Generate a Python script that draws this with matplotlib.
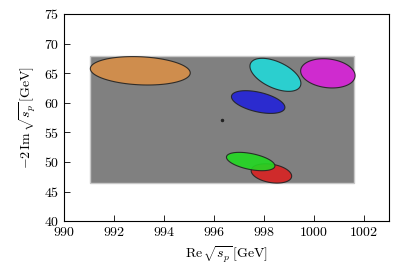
import matplotlib
matplotlib.use("Agg")
import matplotlib.pyplot as plt
import numpy as np
from matplotlib.patches import Rectangle

plt.rcParams['mathtext.fontset'] = 'cm'
plt.rcParams['font.family'] = 'serif'
plt.rcParams['font.serif'] = ['cmr10', 'DejaVu Serif']
plt.rcParams['axes.formatter.use_mathtext'] = True

# region (gray box)
box_x = [991.05, 1001.62]
box_y = [46.45, 67.85]

# ellipses: center, half-extent in x/y, correlation
names = ["orange", "cyan", "magenta", "blue", "red", "green"]
cx = [993.05, 998.46, 1000.56, 997.77, 998.30, 997.47]
cy = [65.40, 64.72, 64.97, 60.12, 48.06, 50.07]
sx = [2.00, 1.02, 1.09, 1.07, 0.81, 0.97]
sy = [2.40, 2.79, 2.47, 1.92, 1.63, 1.55]
rho = [-0.15, -0.52, -0.16, -0.47, -0.28, -0.47]
colors = ["#d98f48", "#22d8d8", "#d822d8", "#2222d8", "#d82222", "#22d822"]

# central point
pt_x = [996.33]
pt_y = [57.1]

fig = plt.figure(figsize=(4.11, 2.69), dpi=100)
ax = fig.add_axes([0.156, 0.178, 0.790, 0.770])

ax.add_patch(Rectangle((box_x[0], box_y[0]), box_x[1] - box_x[0], box_y[1] - box_y[0],
                       facecolor="#808080", edgecolor="#c8c8c8", lw=1.0, zorder=1))

t = np.linspace(0, 2 * np.pi, 200)
for i in range(len(names)):
    cov = np.array([[sx[i] ** 2, rho[i] * sx[i] * sy[i]],
                    [rho[i] * sx[i] * sy[i], sy[i] ** 2]])
    L = np.linalg.cholesky(cov)
    pts = L @ np.vstack([np.cos(t), np.sin(t)])
    ax.fill(cx[i] + pts[0], cy[i] + pts[1], facecolor=colors[i], edgecolor="#222222",
            lw=0.8, alpha=0.9, zorder=2 + i)

ax.plot(pt_x, pt_y, 'o', color="#222222", ms=1.5, zorder=10)

ax.set_xlim(990, 1003)
ax.set_ylim(40, 75)
ax.set_xticks(np.arange(990, 1003, 2))
ax.set_yticks(np.arange(40, 76, 5))
ax.tick_params(direction='in', labelsize=10, length=4, width=0.6)
for s in ax.spines.values():
    s.set_linewidth(0.8)

ax.set_xlabel(r"$\mathrm{Re}\,\sqrt{s_p}\,[\mathrm{GeV}]$", fontsize=10)
ax.set_ylabel(r"$-2\,\mathrm{Im}\,\sqrt{s_p}\,[\mathrm{GeV}]$", fontsize=10)

fig.savefig("out.png", dpi=100)
